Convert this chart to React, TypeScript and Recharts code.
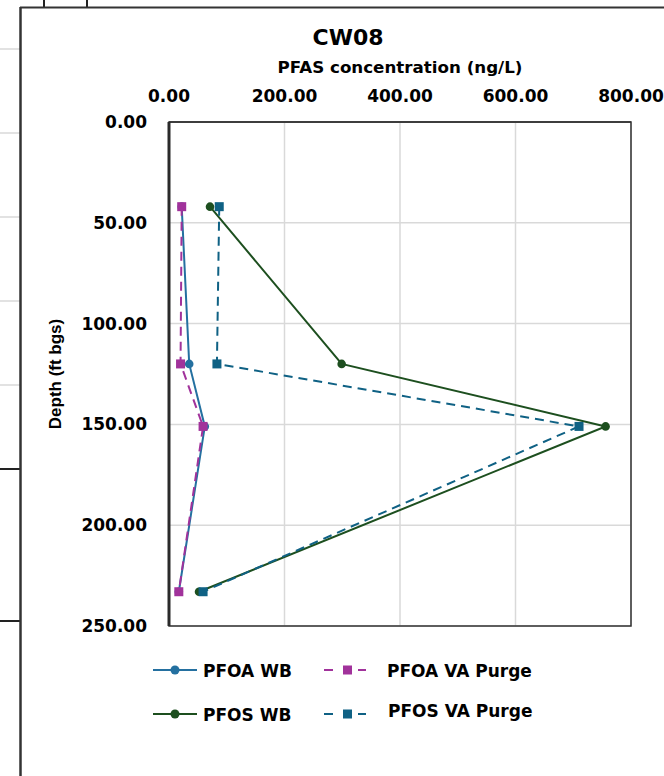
import React from 'react';
import { ScatterChart, Scatter, XAxis, YAxis, CartesianGrid, ReferenceArea } from 'recharts';

const depths = [42, 120, 151, 233];
const pfoaWB = [22, 35, 62, 17];
const pfoaVA = [22, 20, 59, 17];
const pfosWB = [71, 299, 756, 52];
const pfosVA = [87, 83, 710, 59];
const xTicks = [0, 200, 400, 600, 800];
const yTicks = [0, 50, 100, 150, 200, 250];

const C_PFOA_WB = '#2470a0';
const C_PFOA_VA = '#a1329b';
const C_PFOS_WB = '#1d4f1f';
const C_PFOS_VA = '#0f6184';

type Series = { name: string; values: number[]; color: string; dashed: boolean; square: boolean };

const series: Series[] = [
  { name: 'PFOA WB', values: pfoaWB, color: C_PFOA_WB, dashed: false, square: false },
  { name: 'PFOA VA Purge', values: pfoaVA, color: C_PFOA_VA, dashed: true, square: true },
  { name: 'PFOS WB', values: pfosWB, color: C_PFOS_WB, dashed: false, square: false },
  { name: 'PFOS VA Purge', values: pfosVA, color: C_PFOS_VA, dashed: true, square: true },
];

const toData = (vals: number[]) => vals.map((v, i) => ({ x: v, y: depths[i] }));

const tickFont = { fontFamily: 'DejaVu Sans', fontWeight: 'bold', fontSize: 17, fill: '#000' } as any;
const fmt = (v: number) => v.toFixed(2);

const makeShape = (color: string, square: boolean) => (p: any) => {
  if (p.cx == null || p.cy == null) return <g />;
  return square ? (
    <rect x={p.cx - 4.5} y={p.cy - 4.5} width={9} height={9} fill={color} />
  ) : (
    <circle cx={p.cx} cy={p.cy} r={4.3} fill={color} />
  );
};

export default function App() {
  return (
    <div style={{ position: 'absolute', left: 0, top: 0, width: 664, height: 776, overflow: 'hidden', background: '#fff' }}>
      <svg width={664} height={776} style={{ position: 'absolute', left: 0, top: 0 }}>
        {[49, 133, 217, 301, 385].map((y) => (
          <line key={y} x1={0} x2={20} y1={y} y2={y} stroke="#d9d9d9" strokeWidth={1.5} />
        ))}
        <line x1={0} x2={20} y1={469} y2={469} stroke="#222" strokeWidth={2} />
        <line x1={0} x2={20} y1={621} y2={621} stroke="#222" strokeWidth={2} />
        <line x1={44} x2={44} y1={0} y2={7} stroke="#222" strokeWidth={2} />
        <line x1={87} x2={87} y1={0} y2={7} stroke="#222" strokeWidth={2} />
        <line x1={20.5} x2={20.5} y1={7} y2={776} stroke="#333" strokeWidth={2.5} />
        <line x1={20} x2={664} y1={7.5} y2={7.5} stroke="#333" strokeWidth={2} />
      </svg>
      <div style={{ position: 'absolute', left: 0, top: 0 }}>
        <ScatterChart width={664} height={776} margin={{ top: 72, right: 33, bottom: 150, left: 19 }}>
          <CartesianGrid stroke="#d9d9d9" strokeWidth={1.5} />
          <XAxis
            type="number"
            dataKey="x"
            orientation="top"
            domain={[0, 800]}
            ticks={xTicks}
            tickFormatter={fmt}
            height={50}
            tick={tickFont}
            tickLine={false}
            tickSize={0}
            tickMargin={20}
            axisLine={{ stroke: '#333', strokeWidth: 1.5 }}
            allowDataOverflow
          />
          <YAxis
            type="number"
            dataKey="y"
            domain={[0, 250]}
            ticks={yTicks}
            reversed
            tickFormatter={fmt}
            width={150}
            tick={tickFont}
            tickLine={false}
            tickSize={0}
            tickMargin={22}
            axisLine={{ stroke: '#2a2a2a', strokeWidth: 3 }}
            allowDataOverflow
          />
          <ReferenceArea x1={0} x2={800} y1={0} y2={250} fill="none" stroke="#333" strokeWidth={1.5} />
          {series.map((s) => (
            <Scatter
              key={s.name}
              name={s.name}
              data={toData(s.values)}
              fill={s.color}
              isAnimationActive={false}
              line={{ stroke: s.color, strokeWidth: 2, strokeDasharray: s.dashed ? '9 6' : undefined }}
              shape={makeShape(s.color, s.square)}
            />
          ))}
        </ScatterChart>
      </div>
      <svg width={664} height={776} style={{ position: 'absolute', left: 0, top: 0, pointerEvents: 'none' }}>
        <text x={348} y={45} textAnchor="middle" fontFamily="DejaVu Sans" fontWeight="bold" fontSize={22} fill="#000">CW08</text>
        <text x={400} y={73} textAnchor="middle" fontFamily="DejaVu Sans" fontWeight="bold" fontSize={16.7} fill="#000">PFAS concentration (ng/L)</text>
        <text
          x={0}
          y={0}
          transform="translate(61,374) rotate(-90)"
          textAnchor="middle"
          fontFamily="Liberation Sans"
          fontWeight="bold"
          fontSize={17}
          fill="#000"
        >
          Depth (ft bgs)
        </text>
        {/* Legend */}
        <g>
          <line x1={153} x2={197} y1={670} y2={670} stroke={C_PFOA_WB} strokeWidth={2} />
          <circle cx={175} cy={670} r={4.5} fill={C_PFOA_WB} />
          <text x={203} y={676.5} fontFamily="DejaVu Sans" fontWeight="bold" fontSize={17} fill="#000">PFOA WB</text>

          <line x1={153} x2={197} y1={714} y2={714} stroke={C_PFOS_WB} strokeWidth={2} />
          <circle cx={175} cy={714} r={4.5} fill={C_PFOS_WB} />
          <text x={203} y={720.5} fontFamily="DejaVu Sans" fontWeight="bold" fontSize={17} fill="#000">PFOS WB</text>

          <line x1={324} x2={333} y1={670} y2={670} stroke={C_PFOA_VA} strokeWidth={2} />
          <rect x={343} y={665.5} width={9} height={9} fill={C_PFOA_VA} />
          <line x1={358} x2={366} y1={670} y2={670} stroke={C_PFOA_VA} strokeWidth={2} />
          <text x={387} y={676.5} fontFamily="DejaVu Sans" fontWeight="bold" fontSize={17} fill="#000">PFOA VA Purge</text>

          <line x1={324} x2={333} y1={714} y2={714} stroke={C_PFOS_VA} strokeWidth={2} />
          <rect x={343} y={709.5} width={9} height={9} fill={C_PFOS_VA} />
          <line x1={358} x2={366} y1={714} y2={714} stroke={C_PFOS_VA} strokeWidth={2} />
          <text x={388} y={716.5} fontFamily="DejaVu Sans" fontWeight="bold" fontSize={17} fill="#000">PFOS VA Purge</text>
        </g>
      </svg>
    </div>
  );
}
